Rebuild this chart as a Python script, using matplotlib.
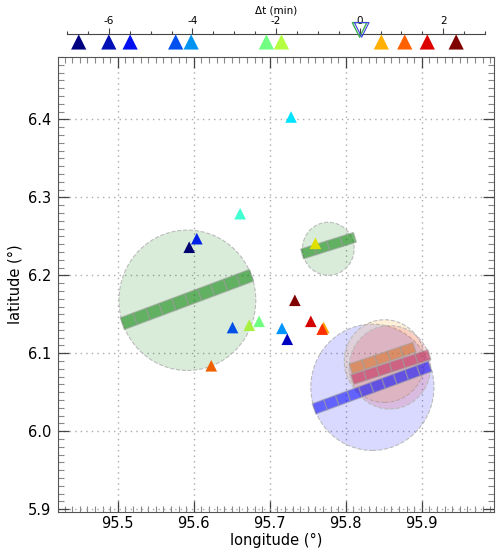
import numpy as np
import matplotlib.pyplot as plt
from matplotlib.patches import Circle, Polygon
from matplotlib.ticker import MultipleLocator

plt.rcParams['axes.unicode_minus'] = False
plt.rcParams['font.family'] = 'DejaVu Sans'

# ---------------------------------------------------------------- data
# stations (lon, lat, colour)
sta_lon = [95.728, 95.661, 95.604, 95.594, 95.760, 95.733, 95.754, 95.771, 95.769,
           95.651, 95.673, 95.686, 95.716, 95.723, 95.623]
sta_lat = [6.403, 6.279, 6.247, 6.236, 6.241, 6.168, 6.141, 6.133, 6.131,
           6.133, 6.136, 6.141, 6.132, 6.118, 6.084]
sta_col = ['#00e4ff', '#40ffd0', '#0020e8', '#000070', '#e0e000', '#800000', '#d40000',
           '#ffa000', '#ff3000', '#0050e8', '#a8f040', '#70ff80', '#0094ff', '#0000c0', '#f06000']

# time offsets on the top axis (min)
dt_vals = [-6.72, -6.0, -5.49, -4.40, -4.03, -2.23, -1.87, 0.52, 1.08, 1.62, 2.31]
dt_cols = ['#000080', '#0010b4', '#0010f0', '#0050f0', '#0094f0', '#70ff80', '#b4ff40',
           '#ffb000', '#ff6000', '#dd0000', '#800000']

# source circles: centre lon, lat, radius (deg), colour
circ_lon = [95.5916, 95.777, 95.835, 95.851, 95.858]
circ_lat = [6.168, 6.234, 6.0564, 6.090, 6.082]
circ_r = [0.090, 0.034, 0.081, 0.053, 0.0535]
circ_col = ['green', 'green', 'blue', 'orange', 'crimson']

# fault strips: start lon/lat, end lon/lat, width (deg), number of subfaults
flt_lon0 = [95.506, 95.7425, 95.7583, 95.8087, 95.8066]
flt_lat0 = [6.138, 6.2274, 6.0287, 6.0663, 6.0800]
flt_lon1 = [95.676, 95.812, 95.9109, 95.910, 95.8903]
flt_lat1 = [6.200, 6.2487, 6.0833, 6.0983, 6.1077]
flt_w = [0.016, 0.013, 0.014, 0.013, 0.013]
flt_n = [10, 4, 10, 6, 5]
flt_col = ['green', 'green', 'blue', '#c02050', '#d87020']

# ---------------------------------------------------------------- figure
fig = plt.figure(figsize=(5.0, 5.52), dpi=100)
ax = fig.add_axes([0.116, 0.0725, 0.872, 0.8243])

for lo, la, r, c in zip(circ_lon, circ_lat, circ_r, circ_col):
    ax.add_patch(Circle((lo, la), r, facecolor=c, alpha=0.15, zorder=2))
    ax.add_patch(Circle((lo, la), r, facecolor='none', edgecolor='#bbbbbb',
                        ls='--', lw=0.8, zorder=2))

for lo0, la0, lo1, la1, w, n, c in zip(flt_lon0, flt_lat0, flt_lon1, flt_lat1,
                                       flt_w, flt_n, flt_col):
    d = np.array([lo1 - lo0, la1 - la0])
    p = np.array([-d[1], d[0]]) / np.hypot(*d) * w / 2
    for i in range(n):
        a = np.array([lo0, la0]) + d * i / n
        b = np.array([lo0, la0]) + d * (i + 1) / n
        ax.add_patch(Polygon([a - p, b - p, b + p, a + p], closed=True,
                             facecolor=c, alpha=0.55, edgecolor='#a0a0a0',
                             lw=1.0, zorder=3))

ax.scatter(sta_lon, sta_lat, marker='^', s=70, c=sta_col, linewidths=0, zorder=4)

ax.set_xlim(95.4214, 95.995)
ax.set_ylim(5.8965, 6.48)
ax.xaxis.set_major_locator(MultipleLocator(0.1))
ax.yaxis.set_major_locator(MultipleLocator(0.1))
ax.xaxis.set_minor_locator(MultipleLocator(0.01))
ax.yaxis.set_minor_locator(MultipleLocator(0.01))
ax.tick_params(which='both', direction='in', top=True, right=True, labelsize=10.5)
ax.tick_params(which='major', length=8, width=0.9, color='#444444', pad=5)
ax.tick_params(axis='x', which='major', pad=3)
ax.tick_params(which='minor', length=4.5, width=0.8, color='#888888')
ax.grid(True, ls=(0, (1, 3)), color='#aaaaaa', lw=1)
for s in ax.spines.values():
    s.set_color('#555555')
ax.set_xlabel('longitude (°)', fontsize=10.5, labelpad=1)
ax.set_ylabel('latitude (°)', fontsize=10.5)

# ---------------------------------------------------------------- time axis
at = fig.add_axes([0.134, 0.9384 - 0.03, 0.836, 0.03])
at.set_xlim(-7, 3)
at.set_ylim(0, 1)
for k in ['left', 'right', 'bottom']:
    at.spines[k].set_visible(False)
at.spines['top'].set_color('#444444')
at.patch.set_visible(False)
at.set_yticks([])
at.xaxis.tick_top()
at.xaxis.set_label_position('top')
at.xaxis.set_major_locator(MultipleLocator(2))
at.xaxis.set_minor_locator(MultipleLocator(0.5))
at.tick_params(which='major', length=4.5, width=0.8, color='#444444', labelsize=7.5, pad=1)
at.tick_params(which='minor', length=2.5, width=0.8, color='#444444')
at.set_xlabel('Δt (min)', fontsize=7.5, labelpad=2)
at.scatter(dt_vals, [0.52] * len(dt_vals), marker='^', s=120, c=dt_cols,
           linewidths=0, clip_on=False, zorder=3)
at.scatter([0], [1.25], marker='v', s=110, facecolors='none', edgecolors='#3cb050',
           linewidths=1.0, clip_on=False, zorder=3)
at.scatter([0.05], [1.25], marker='v', s=110, facecolors='none', edgecolors='#4040e0',
           linewidths=0.8, clip_on=False, zorder=3)

fig.savefig('out.png', dpi=100)
